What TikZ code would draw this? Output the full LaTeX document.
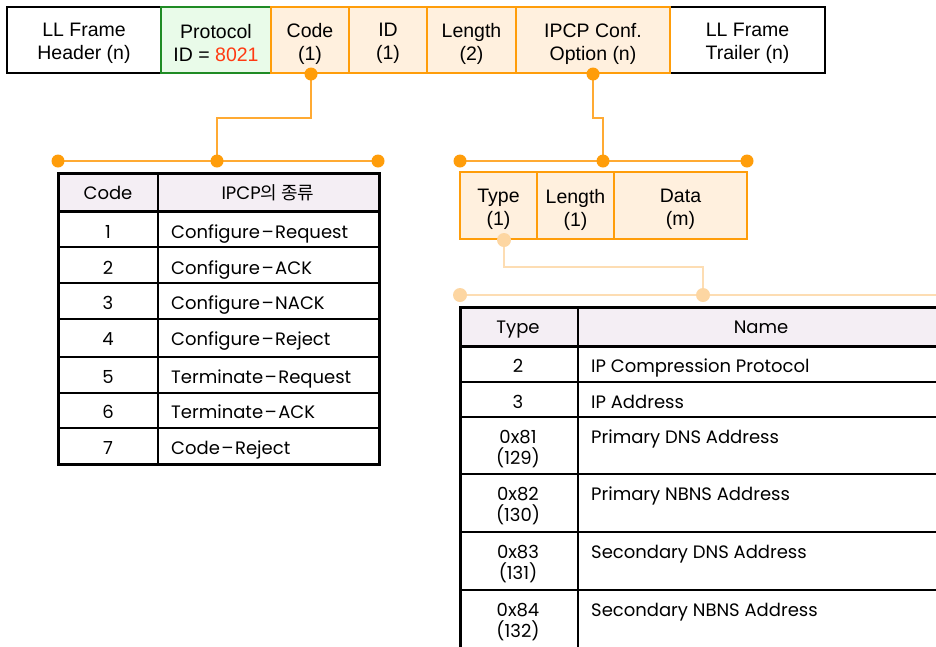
\documentclass[tikz,border=0pt]{standalone}
\usepackage{fontspec}
\setmainfont{Liberation Sans}
\newfontfamily\tabfont{Poppins}
\newfontfamily\krfont{Noto Sans CJK KR}
\usetikzlibrary{calc}

\definecolor{orangeLine}{HTML}{FF9D0A}
\definecolor{linkLine}{HTML}{FFAA33}
\definecolor{orangeFill}{HTML}{FFF0DE}
\definecolor{greenLine}{HTML}{1F8B24}
\definecolor{greenFill}{HTML}{E9FBE9}
\definecolor{redNum}{HTML}{FF3A12}
\definecolor{paleDot}{HTML}{FDD6A2}
\definecolor{paleLine}{HTML}{FDDDB3}
\definecolor{headFill}{HTML}{F4EEF4}

\newcommand{\dashsep}{\kern1.5pt\textendash\kern1.5pt}

\tikzset{
  field/.style={draw, line width=2pt, minimum height=66pt, inner sep=0pt},
  ftext/.style={inner sep=0pt, align=center, font=\fontsize{19.5}{23}\selectfont},
  blackfield/.style={field, draw=black, fill=white},
  greenfield/.style={field, draw=greenLine, fill=greenFill},
  orangefield/.style={field, draw=orangeLine, fill=orangeFill},
  subfield/.style={orangefield, minimum height=67pt},
  link/.style={draw=linkLine, line width=1.2pt},
  palelink/.style={draw=paleLine, line width=1.2pt},
  dot/.style={fill=orangeLine},
  paledot/.style={fill=paleDot},
  cell/.style={inner sep=0pt, anchor=base, font=\tabfont\fontsize{18}{21}\selectfont},
  lcell/.style={cell, anchor=base west},
  tcell/.style={cell, align=center, anchor=north},
  tname/.style={cell, anchor=north west},
  thickrule/.style={line width=3pt, black},
  thinrule/.style={line width=1.4pt, black}
}

\begin{document}
\begin{tikzpicture}[x=1pt,y=-1pt]
\useasboundingbox (0,0) rectangle (936,646);

% ---- PPP frame fields ----
\node[blackfield, minimum width=154pt] (hdr) at (84,40) {};
\node[blackfield, minimum width=155pt] (trl) at (747.5,40) {};
\node[greenfield, minimum width=110pt] (proto) at (216,40) {};
\node[orangefield, minimum width=78pt] (code) at (310,40) {};
\node[orangefield, minimum width=78pt] (id) at (388,40) {};
\node[orangefield, minimum width=89pt] (len) at (471.5,40) {};
\node[orangefield, minimum width=154pt] (opt) at (593,40) {};

\node[ftext] (hdr-t) at ([yshift=-3.5pt]hdr.center) {LL Frame\\Header (n)};
\node[ftext] (trl-t) at ([yshift=-3.5pt]trl.center) {LL Frame\\Trailer (n)};
\node[ftext] (proto-t) at ([yshift=-3.5pt]proto.center) {Protocol\\ID = \textcolor{redNum}{8021}};
\node[ftext] (code-t) at ([yshift=-3.5pt]code.center) {Code\\(1)};
\node[ftext] (id-t) at ([yshift=-3.5pt]id.center) {ID\\(1)};
\node[ftext] (len-t) at ([yshift=-3.5pt]len.center) {Length\\(2)};
\node[ftext] (opt-t) at ([yshift=-3.5pt]opt.center) {IPCP Conf.\\Option (n)};

% ---- bus above the code table ----
\coordinate (cl1) at (58,161);
\coordinate (cl2) at (217,161);
\coordinate (cl3) at (378,161);
\draw[link] ([xshift=1pt]code.south) -- ++(0,44) -| (cl2);
\draw[link] (cl1) -- (cl3);
\fill[dot] ([xshift=1pt]code.south) circle (6.5pt);
\foreach \c in {cl1,cl2,cl3} \fill[dot] (\c) circle (6.5pt);

% ---- bus above the option fields ----
\coordinate (cr1) at (460,161);
\coordinate (cr2) at (603,161);
\coordinate (cr3) at (747,161);
\draw[link] (opt.south) -- ++(0,44) -| (cr2);
\draw[link] (cr1) -- (cr3);
\fill[dot] (opt.south) circle (6.5pt);
\foreach \c in {cr1,cr2,cr3} \fill[dot] (\c) circle (6.5pt);

% ---- option sub-fields ----
\node[subfield, minimum width=77pt] (type) at (498.5,205.5) {};
\node[subfield, minimum width=77pt] (olen) at (575.5,205.5) {};
\node[subfield, minimum width=133pt] (data) at (680.5,205.5) {};
\node[ftext] (type-t) at ([yshift=-4pt]type.center) {Type\\(1)};
\node[ftext] (olen-t) at ([yshift=-4pt]olen.center) {Length\\(1)};
\node[ftext] (data-t) at ([yshift=-4pt]data.center) {Data\\(m)};

% ---- pale bus above the type table ----
\coordinate (tb1) at (460,295);
\coordinate (tb2) at (703,295);
\coordinate (tb3) at (940,295);
\draw[palelink] ([xshift=5.5pt]type.south) -- ++(0,27) -| (tb2);
\draw[palelink] (tb1) -- (tb3);
\fill[paledot] ([xshift=5.5pt]type.south) circle (7pt);
\foreach \c in {tb1,tb2} \fill[paledot] (\c) circle (7pt);

% ---- code table ----
\fill[headFill] (58,173) rectangle (379,211);
\foreach \y in {247,283,319,357,393,428}
  \draw[thinrule] (58,\y) -- (379,\y);
\draw[thinrule] (158,173) -- (158,464);
\draw[thickrule] (58,211) -- (379,211);
\draw[thickrule] (58,173) rectangle (379,464);

\node[cell] (ch1) at (108,199) {Code};
\node[cell] (ch2) at (268,199) {IPCP{\krfont 의 종류}};
\foreach \n/\t/\y in {1/Configure\dashsep Request/238,
                      2/Configure\dashsep ACK/274,
                      3/Configure\dashsep NACK/309,
                      4/Configure\dashsep Reject/345,
                      5/Terminate\dashsep Request/383,
                      6/Terminate\dashsep ACK/418,
                      7/Code\dashsep Reject/454} {
  \node[cell] (cn\n) at (108,\y) {\n};
  \node[lcell] (ct\n) at (171,\y) {\t};
}

% ---- type table (runs past the right and bottom edges) ----
\begin{scope}
\clip (0,0) rectangle (936,646);
\fill[headFill] (460,307) rectangle (950,346);
\foreach \y in {382,417,474,532,590}
  \draw[thinrule] (460,\y) -- (950,\y);
\draw[thinrule] (578,307) -- (578,660);
\draw[thickrule] (460,346) -- (950,346);
\draw[thickrule] (950,307) -- (460,307) -- (460,660);
\end{scope}

\node[cell] (th1) at (518,333) {Type};
\node[cell] (th2) at (761,333) {Name};
\node[cell] (tn2) at (518,372) {2};
\node[lcell] (tt2) at (591,372) {IP Compression Protocol};
\node[cell] (tn3) at (518,408) {3};
\node[lcell] (tt3) at (591,408) {IP Address};
\foreach \k/\h/\d/\t/\y in {1/0x81/129/Primary DNS Address/430,
                            2/0x82/130/Primary NBNS Address/487,
                            3/0x83/131/Secondary DNS Address/545,
                            4/0x84/132/Secondary NBNS Address/603} {
  \node[tcell] (tx\k) at (518,\y) {\h\\(\d)};
  \node[tname] (ty\k) at (591,\y) {\t};
}
\end{tikzpicture}
\end{document}
